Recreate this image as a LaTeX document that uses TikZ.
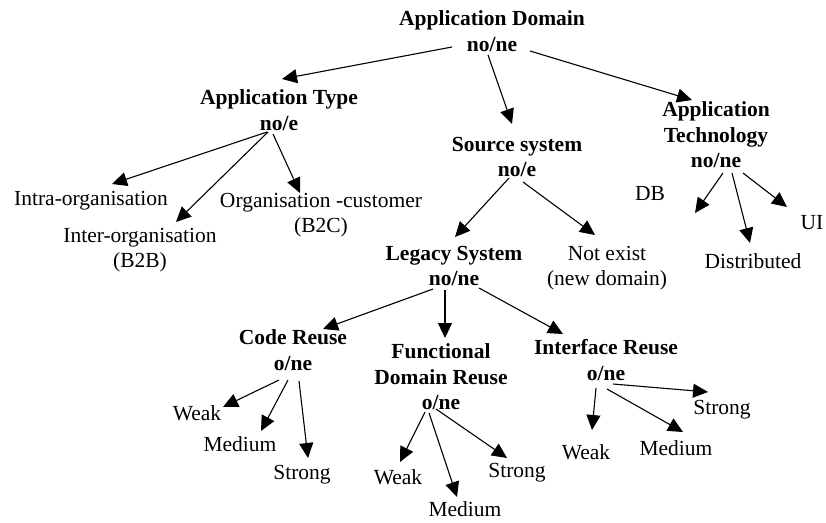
\documentclass[tikz,border=0pt]{standalone}
\usepackage{fontspec}
\setmainfont{Liberation Serif}
\usetikzlibrary{arrows.meta}
\tikzset{
  lbl/.style={inner sep=0pt, align=center, font=\fontsize{21.5}{25.5}\selectfont},
  hd/.style={inner sep=0pt, align=center, font=\fontsize{21.5}{25.5}\selectfont\bfseries},
  arr/.style={-{Triangle[length=15pt,width=14pt]}, line width=1.1pt}
}
\begin{document}
\begin{tikzpicture}[x=1pt,y=-1pt]
\useasboundingbox (0,0) rectangle (826,522);
% nodes
\node[hd] (ad) at (492,31) {Application Domain\\no/ne};
\node[hd] (at) at (279,110) {Application Type\\no/e};
\node[hd] (ss) at (517,157) {Source system\\no/e};
\node[hd] (atech) at (716,135) {Application\\Technology\\no/ne};
\node[lbl] (intra) at (91,201) {Intra-organisation};
\node[lbl] (inter) at (140,250) {Inter-organisation\\(B2B)};
\node[lbl] (oc) at (321,215) {Organisation -customer\\(B2C)};
\node[lbl] (db) at (650,193) {DB};
\node[lbl] (dist) at (753,261) {Distributed};
\node[lbl] (ui) at (812,223) {UI};
\node[hd] (ls) at (454,266) {Legacy System\\no/ne};
\node[lbl] (ne) at (607,268) {Not exist\\(new domain)};
\node[hd] (cr) at (293,350) {Code Reuse\\o/ne};
\node[hd] (fd) at (441,377) {Functional\\Domain Reuse\\o/ne};
\node[hd] (ir) at (606,360) {Interface Reuse\\o/ne};
\node[lbl] (cw) at (197,413) {Weak};
\node[lbl] (cm) at (240,444) {Medium};
\node[lbl] (cs) at (302,475) {Strong};
\node[lbl] (fw) at (398,477) {Weak};
\node[lbl] (fm) at (465,509) {Medium};
\node[lbl] (fs) at (517,473) {Strong};
\node[lbl] (iw) at (586,452) {Weak};
\node[lbl] (im) at (676,448) {Medium};
\node[lbl] (is) at (722,410) {Strong};
% connectors
\draw[arr] ([shift={(-40,16)}]ad.center) -- ([shift={(3,-31)}]at.center);
\draw[arr] ([shift={(-4,24)}]ad.center) -- ([shift={(-5,-33)}]ss.center);
\draw[arr] ([shift={(38,20)}]ad.center) -- ([shift={(-24,-35)}]atech.center);
\draw[arr] ([shift={(-12,22)}]at.center) -- ([shift={(21,-17)}]intra.center);
\draw[arr] ([shift={(-11,22)}]at.center) -- ([shift={(36,-28)}]inter.center);
\draw[arr] ([shift={(-6,24)}]at.center) -- ([shift={(-21,-22)}]oc.center);
\draw[arr] ([shift={(-8,21)}]ss.center) -- ([shift={(1,-29)}]ls.center);
\draw[arr] ([shift={(6,25)}]ss.center) -- ([shift={(-12,-33)}]ne.center);
\draw[arr] ([shift={(7,38)}]atech.center) -- ([shift={(45,20)}]db.center);
\draw[arr] ([shift={(16,38)}]atech.center) -- ([shift={(-3,-18)}]dist.center);
\draw[arr] ([shift={(27,38)}]atech.center) -- ([shift={(-25,-16)}]ui.center);
\draw[arr] ([shift={(-21,23)}]ls.center) -- ([shift={(30,-21)}]cr.center);
\draw[arr] ([shift={(-9,24)}]ls.center) -- ([shift={(4,-39)}]fd.center);
\draw[arr] ([shift={(25,22)}]ls.center) -- ([shift={(-43,-26)}]ir.center);
\draw[arr] ([shift={(-14,30)}]cr.center) -- ([shift={(26,-6)}]cw.center);
\draw[arr] ([shift={(-5,30)}]cr.center) -- ([shift={(21,-13)}]cm.center);
\draw[arr] ([shift={(6,31)}]cr.center) -- ([shift={(6,-17)}]cs.center);
\draw[arr] ([shift={(-16,35)}]fd.center) -- ([shift={(2,-15)}]fw.center);
\draw[arr] ([shift={(-12,36)}]fd.center) -- ([shift={(-8,-12)}]fm.center);
\draw[arr] ([shift={(-5,32)}]fd.center) -- ([shift={(-10,-15)}]fs.center);
\draw[arr] ([shift={(-10,28)}]ir.center) -- ([shift={(6,-22)}]iw.center);
\draw[arr] ([shift={(1,29)}]ir.center) -- ([shift={(7,-16)}]im.center);
\draw[arr] ([shift={(7,24)}]ir.center) -- ([shift={(-14,-18)}]is.center);
\end{tikzpicture}
\end{document}
